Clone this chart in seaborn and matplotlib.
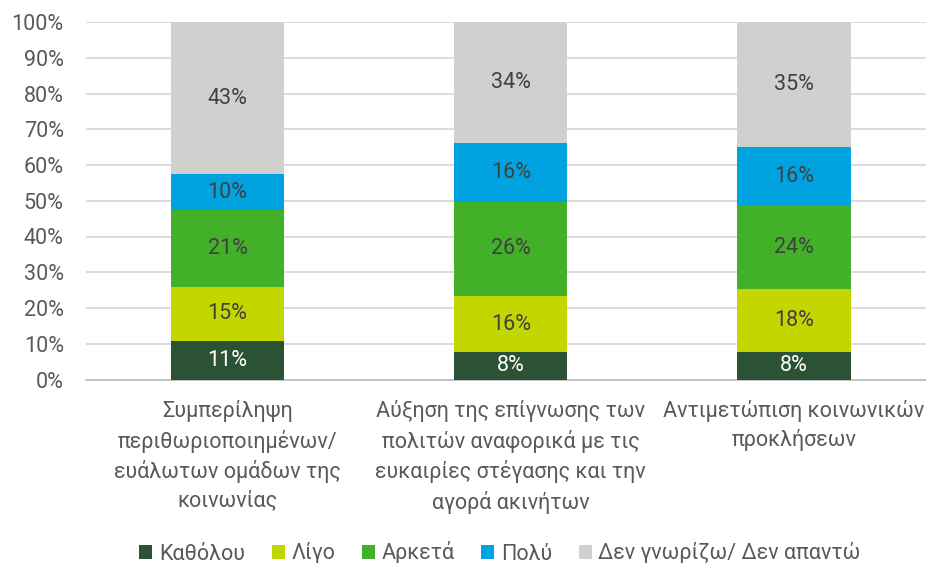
import matplotlib
matplotlib.use("Agg")
import matplotlib.pyplot as plt
from matplotlib.patches import Patch
import seaborn as sns
import numpy as np
import pandas as pd

categories = [
    "Συμπερίληψη\nπεριθωριοποιημένων/\nευάλωτων ομάδων της\nκοινωνίας",
    "Αύξηση της επίγνωσης των\nπολιτών αναφορικά με τις\nευκαιρίες στέγασης και την\nαγορά ακινήτων",
    "Αντιμετώπιση κοινωνικών\nπροκλήσεων",
]
series_names = ["Καθόλου", "Λίγο", "Αρκετά", "Πολύ", "Δεν γνωρίζω/ Δεν απαντώ"]
kathólou = [10.9, 7.6, 7.6]
ligo = [15.1, 15.8, 17.6]
arketa = [21.3, 26.3, 23.6]
poly = [10.1, 16.4, 16.2]
den_gnorizo = [42.6, 33.9, 35.0]
yticks = [0, 10, 20, 30, 40, 50, 60, 70, 80, 90, 100]

colors = ["#2B5234", "#C4D600", "#43B02A", "#00A3E0", "#D0D0CE"]
label_colors = ["white", "#404040", "#404040", "#404040", "#404040"]

sns.set_style("white")
plt.rcParams['font.family'] = ['Roboto', 'DejaVu Sans']
FS = 15.5

values = [kathólou, ligo, arketa, poly, den_gnorizo]
vals = np.array(values)
cum = np.cumsum(vals, axis=0)

fig = plt.figure(figsize=(9.26, 5.63), dpi=100)
ax = fig.add_axes([86/926, 1-379.5/563, 849.5/926, 357.5/563])

# draw cumulative totals from top layer down so each overlays
for i in range(len(series_names) - 1, -1, -1):
    df = pd.DataFrame({"cat": categories, "val": cum[i]})
    sns.barplot(data=df, x="cat", y="val", color=colors[i], saturation=1,
                width=0.4, errorbar=None, ax=ax, zorder=2, linewidth=0)

# labels
for i in range(len(series_names)):
    for j in range(len(categories)):
        mid = cum[i][j] - vals[i][j] / 2
        ax.text(j, mid, f"{vals[i][j]:.0f}%", ha="center", va="center",
                fontsize=FS, color=label_colors[i], zorder=5)

ax.set_ylim(0, 100)
ax.set_xlim(-0.5, 2.5)
ax.set_yticks(yticks)
ax.set_yticklabels([f"{t}%" for t in yticks])
ax.yaxis.grid(True, color="#D9D9D9", linewidth=1.3, zorder=0)
ax.set_axisbelow(True)
for s in ["top", "right", "left"]:
    ax.spines[s].set_visible(False)
ax.spines["bottom"].set_color("#BFBFBF")
ax.spines["bottom"].set_linewidth(1.3)
ax.spines["bottom"].set_zorder(1)
ax.set_xlabel("")
ax.set_ylabel("")
ax.tick_params(axis="y", length=0, pad=16, labelsize=FS, labelcolor="#595959")
ax.tick_params(axis="x", which="major", length=0, pad=15, labelsize=FS, labelcolor="#595959")
ax.set_xticks([0, 1, 2])
ax.set_xticklabels(categories, linespacing=1.42)
ax.set_xticks([-0.5, 0.5, 1.5, 2.5], minor=True)
ax.tick_params(axis="x", which="minor", length=6, width=1.3, color="#BFBFBF", direction="out")

handles = [Patch(facecolor=c, edgecolor="none") for c in colors]
fig.legend(handles, series_names, loc="center", bbox_to_anchor=(500/926, 1-553/563),
           ncol=5, frameon=False, fontsize=FS, handlelength=0.6, handleheight=0.6,
           handletextpad=0.3, columnspacing=1.25, labelcolor="#595959")

fig.savefig("out.png", dpi=100)
